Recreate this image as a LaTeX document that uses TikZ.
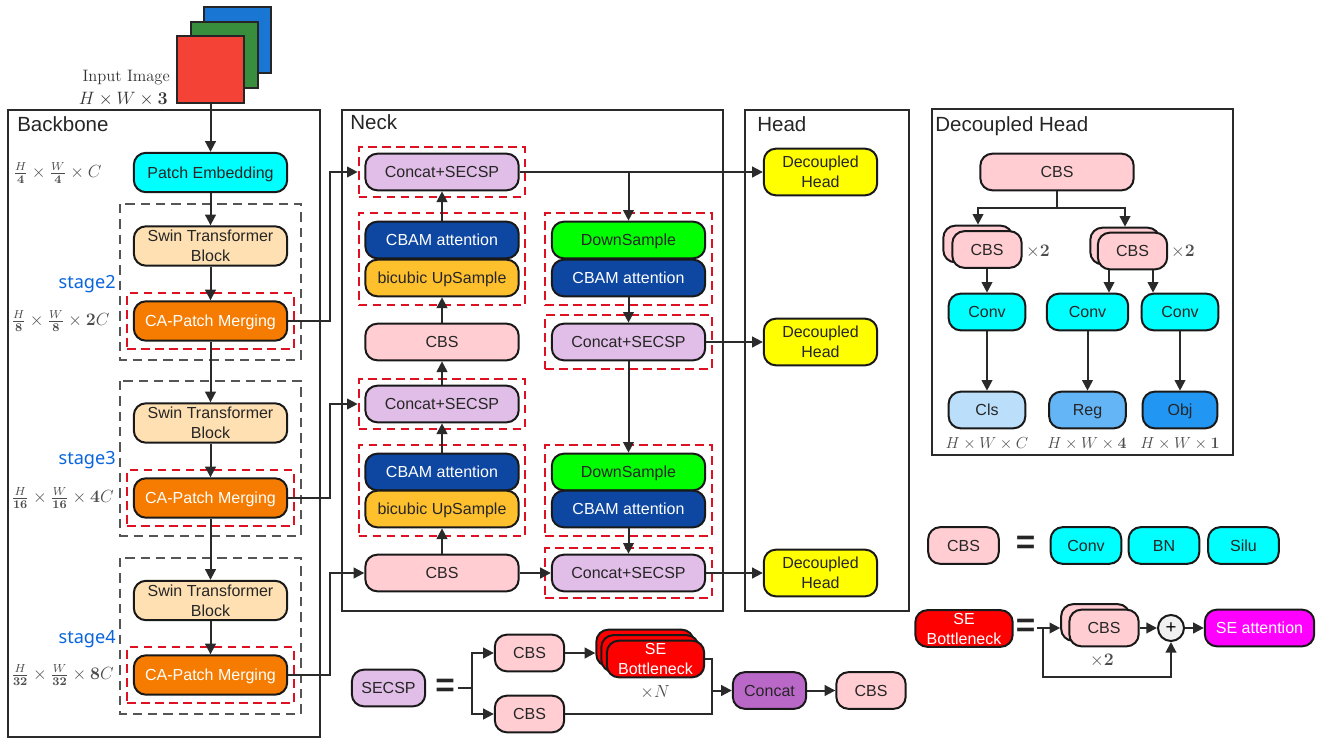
\documentclass[tikz,border=0pt]{standalone}
\usepackage[no-math]{fontspec}
\usepackage{tikz}
\usetikzlibrary{arrows.meta,fit}
\setsansfont{Liberation Sans}
\newfontfamily\stagefont{Noto Sans}
\definecolor{imgred}{HTML}{F44336}
\definecolor{imggreen}{HTML}{388E3C}
\definecolor{imgblue}{HTML}{1976D2}
\definecolor{cbspink}{HTML}{FFCDD2}
\definecolor{secsplilac}{HTML}{E1BEE7}
\definecolor{concatpurple}{HTML}{BA68C8}
\definecolor{swinsand}{HTML}{FFE0B2}
\definecolor{caorange}{HTML}{F57C00}
\definecolor{cbamblue}{HTML}{0D47A1}
\definecolor{upamber}{HTML}{FFC02D}
\definecolor{clssky}{HTML}{BBDEFB}
\definecolor{regsky}{HTML}{64B5F6}
\definecolor{objsky}{HTML}{2196F3}
\definecolor{stageblue}{HTML}{0A64DC}
\definecolor{linegray}{HTML}{2A2A2A}
\definecolor{dashred}{HTML}{DD1122}
\definecolor{dashgray}{HTML}{555555}
\definecolor{fillcyan}{HTML}{00FFFF}
\definecolor{fillgreen}{HTML}{00FF00}
\definecolor{fillyellow}{HTML}{FFFF00}
\definecolor{fillred}{HTML}{FF0000}
\definecolor{fillmagenta}{HTML}{FF00FF}
\tikzset{
  box/.style={draw=black!90,line width=1.5pt,rounded corners=9pt,align=center,inner sep=0pt,
    minimum height=27.5pt,text height=8.6pt,text depth=0pt,
    font=\sffamily\fontsize{12}{15}\selectfont,text=black!85},
  twolines/.style={text height=,text depth=},
  big/.style={minimum width=115pt},
  mid/.style={minimum width=52pt},
  tall/.style={minimum height=29.5pt},
  cbs/.style={box,fill=cbspink},
  conv/.style={box,fill=fillcyan},
  secsp/.style={box,fill=secsplilac},
  swin/.style={box,big,tall,twolines,fill=swinsand},
  camerge/.style={box,big,tall,fill=caorange,text=white},
  cbam/.style={box,big,fill=cbamblue,text=white},
  upsam/.style={box,big,fill=upamber},
  downsam/.style={box,big,fill=fillgreen},
  dechead/.style={box,twolines,minimum width=85pt,minimum height=35pt,fill=fillyellow},
  seb/.style={box,twolines,fill=fillred,text=white,minimum width=73pt},
  frame/.style={draw=linegray,line width=1.5pt},
  framelabel/.style={anchor=base west,inner sep=0pt,font=\sffamily\fontsize{15.4}{18}\selectfont,text=black!85},
  graydash/.style={draw=dashgray,line width=1.2pt,dash pattern=on 7pt off 4.5pt},
  reddash/.style={draw=dashred,line width=1.6pt,dash pattern=on 6.5pt off 4pt,inner xsep=4.2pt,inner ysep=4pt},
  imgbox/.style={draw=black!85,line width=1.3pt,minimum size=50pt,inner sep=0pt},
  dim/.style={inner sep=0pt,text=black!70,font=\fontsize{12}{14}\selectfont},
  fracdim/.style={dim,anchor=west,scale=1.1,transform shape},
  repeats/.style={dim,scale=1.1,transform shape},
  stagetxt/.style={anchor=base east,inner sep=0pt,text=stageblue,font=\stagefont\fontsize{13.6}{16}\selectfont},
  eqsign/.style={inner sep=0pt,text=black!85,font=\sffamily\bfseries\fontsize{25}{25}\selectfont},
  plain/.style={draw=linegray,line width=1.5pt},
  conn/.style={plain,-{Triangle[length=8pt,width=8pt]}}
}
\begin{document}
\begin{tikzpicture}[x=0.75pt,y=-0.75pt]
  \useasboundingbox (0,0) rectangle (1325,746);
  \draw[frame] (8,110) rectangle (320,737);
  \draw[frame] (342,110) rectangle (723,611);
  \draw[frame] (745,110) rectangle (909,611);
  \draw[frame] (932,109) rectangle (1233,455);
  \node[framelabel] (lblBack) at (17,131) {Backbone};
  \node[framelabel] (lblNeck) at (350,129) {Neck};
  \node[framelabel] (lblHead) at (757,131) {Head};
  \node[framelabel] (lblDec) at (935,131) {Decoupled Head};

  \node[imgbox,fill=imgblue] (imgB) at (237.5,40) {};
  \node[imgbox,fill=imggreen] (imgG) at (224.5,55) {};
  \node[imgbox,fill=imgred] (imgR) at (210.5,69.5) {};
  \node[dim,text=black!80,anchor=east,font=\fontsize{12.4}{14}\selectfont] (imgTxt) at (170,78) {Input Image};
  \node[dim,text=black!80,anchor=east,scale=1.12,transform shape] (imgDim) at (168,99) {$H\times W\times\mathbf{3}$};

  \draw[graydash] (120,204) rectangle (301,360);
  \draw[graydash] (120,381) rectangle (301,536);
  \draw[graydash] (120,558) rectangle (301,714);
  \node[box,big,tall,fill=fillcyan] (patch) at (210.5,172.5) {Patch Embedding};
  \node[swin] (swinA) at (210.5,246) {Swin Transformer\\Block};
  \node[camerge] (caA) at (210.5,321) {CA-Patch Merging};
  \node[swin] (swinB) at (210.5,423) {Swin Transformer\\Block};
  \node[camerge] (caB) at (210.5,498) {CA-Patch Merging};
  \node[swin] (swinC) at (210.5,600.5) {Swin Transformer\\Block};
  \node[camerge] (caC) at (210.5,675) {CA-Patch Merging};
  \node[reddash,inner ysep=5.5pt,fit=(caA)] (redCaA) {};
  \node[reddash,inner ysep=5.5pt,fit=(caB)] (redCaB) {};
  \node[reddash,inner ysep=5.5pt,fit=(caC)] (redCaC) {};
  \node[stagetxt] (stA) at (116,288) {stage2};
  \node[stagetxt] (stB) at (116,464) {stage3};
  \node[stagetxt] (stC) at (116,643) {stage4};
  \node[fracdim] (dimA) at (13,173) {$\frac{H}{\mathbf{4}}\times\frac{W}{\mathbf{4}}\times C$};
  \node[fracdim] (dimB) at (11,321) {$\frac{H}{\mathbf{8}}\times\frac{W}{\mathbf{8}}\times\mathbf{2}C$};
  \node[fracdim] (dimC) at (11,498) {$\frac{H}{\mathbf{16}}\times\frac{W}{\mathbf{16}}\times\mathbf{4}C$};
  \node[fracdim] (dimD) at (11,675) {$\frac{H}{\mathbf{32}}\times\frac{W}{\mathbf{32}}\times\mathbf{8}C$};

  \node[secsp,big] (concA) at (442,172) {Concat+SECSP};
  \node[cbam] (cbamA) at (442,240) {CBAM attention};
  \node[upsam] (upA) at (442,278) {bicubic UpSample};
  \node[cbs,big] (cbsA) at (442,342) {CBS};
  \node[secsp,big] (concB) at (442,404) {Concat+SECSP};
  \node[cbam] (cbamB) at (442,472) {CBAM attention};
  \node[upsam] (upB) at (442,509) {bicubic UpSample};
  \node[cbs,big] (cbsB) at (442,573) {CBS};
  \node[downsam] (downA) at (628.5,240) {DownSample};
  \node[cbam] (cbamC) at (628.5,278) {CBAM attention};
  \node[secsp,big] (concC) at (628.5,342) {Concat+SECSP};
  \node[downsam] (downB) at (628.5,472) {DownSample};
  \node[cbam] (cbamD) at (628.5,509) {CBAM attention};
  \node[secsp,big] (concD) at (628.5,573) {Concat+SECSP};
  \node[reddash,fit=(concA)] (redConcA) {};
  \node[reddash,fit=(concB)] (redConcB) {};
  \node[reddash,inner ysep=6pt,fit=(concC)] (redConcC) {};
  \node[reddash,fit=(concD)] (redConcD) {};
  \node[reddash,inner ysep=6pt,fit=(cbamA)(upA)] (redUpA) {};
  \node[reddash,inner ysep=6pt,fit=(cbamB)(upB)] (redUpB) {};
  \node[reddash,inner ysep=6pt,fit=(downA)(cbamC)] (redDownA) {};
  \node[reddash,inner ysep=6pt,fit=(downB)(cbamD)] (redDownB) {};
  \node[dechead] (headA) at (820.5,172) {Decoupled\\Head};
  \node[dechead] (headB) at (820.5,342) {Decoupled\\Head};
  \node[dechead] (headC) at (820.5,573) {Decoupled\\Head};

  \node[cbs,big] (dcTop) at (1057,172) {CBS};
  \node[cbs,mid] (dcLb) at (978,244) {};
  \node[cbs,mid] (dcL) at (987,249.5) {CBS};
  \node[cbs,mid] (dcRb) at (1125,246) {};
  \node[cbs,mid] (dcR) at (1132.5,251) {CBS};
  \node[repeats] (dcLx) at (1038,252) {$\times\mathbf{2}$};
  \node[repeats] (dcRx) at (1183,252) {$\times\mathbf{2}$};
  \node[conv,minimum width=57.5pt] (convA) at (987,312) {Conv};
  \node[conv,minimum width=61pt] (convB) at (1087.5,312) {Conv};
  \node[conv,minimum width=57.5pt] (convC) at (1180,312) {Conv};
  \node[box,minimum width=57.5pt,fill=clssky] (cls) at (987,410) {Cls};
  \node[box,minimum width=57.5pt,fill=regsky] (reg) at (1087.5,410) {Reg};
  \node[box,minimum width=56pt,fill=objsky] (obj) at (1180,410) {Obj};
  \node[dim] (dimCls) at (987,444) {$H\times W\times C$};
  \node[dim] (dimReg) at (1087,444) {$H\times W\times\mathbf{4}$};
  \node[dim] (dimObj) at (1180,444) {$H\times W\times\mathbf{1}$};
  \coordinate (dcBr) at (1057,208);
  \coordinate (tapReg) at (1109,0);
  \coordinate (tapObj) at (1153,0);

  \node[cbs,minimum width=53pt] (keyCbs) at (963.5,545.5) {CBS};
  \node[eqsign] (eqCbs) at (1025.5,545) {=};
  \node[conv,minimum width=53pt] (keyConv) at (1086,545.5) {Conv};
  \node[conv,minimum width=53pt] (keyBn) at (1164,545.5) {BN};
  \node[conv,minimum width=53pt] (keySilu) at (1243.5,545.5) {Silu};

  \node[seb] (sebKey) at (964,628.5) {SE\\Bottleneck};
  \node[eqsign] (eqSeb) at (1025.5,627.5) {=};
  \node[cbs,minimum width=51.5pt] (sebCb) at (1095.5,622.5) {};
  \node[cbs,minimum width=52pt] (sebC) at (1104,628) {CBS};
  \node[repeats] (sebX) at (1102,661) {$\times\mathbf{2}$};
  \node[draw=black!90,line width=1.5pt,circle,fill=black!6,minimum size=19.5pt,inner sep=0pt,font=\sffamily\fontsize{14}{14}\selectfont] (plus) at (1171,628) {+};
  \node[box,minimum width=82pt,fill=fillmagenta,text=white] (seAtt) at (1259.5,628) {SE attention};
  \coordinate (sebIn) at (1037,628);
  \coordinate (sebBr) at (1043,628);
  \coordinate (sebLow) at (1043,677);

  \node[secsp,minimum width=55pt] (keySec) at (388.5,688) {SECSP};
  \node[eqsign] (eqSec) at (445,688) {=};
  \node[cbs,minimum width=52pt] (secA) at (529.5,653) {CBS};
  \node[cbs,minimum width=52pt] (secB) at (529.5,714) {CBS};
  \node[seb] (stackA) at (645,648) {};
  \node[seb] (stackB) at (650,653.5) {};
  \node[seb] (stackC) at (655.5,659) {SE\\Bottleneck};
  \node[repeats] (stackX) at (655,692) {$\times N$};
  \node[box,minimum width=55pt,fill=concatpurple] (secCat) at (769.5,690.5) {Concat};
  \node[cbs,minimum width=52pt] (secEnd) at (871,690.5) {CBS};
  \coordinate (secIn) at (458,688);
  \coordinate (secBr) at (472,688);
  \coordinate (secOut) at (711.5,690.5);

  \draw[conn] (imgR.south) -- (patch.north);
  \draw[conn] (patch.south) -- (swinA.north);
  \draw[conn] (swinA.south) -- (caA.north);
  \draw[conn] (caA.south) -- (swinB.north);
  \draw[conn] (swinB.south) -- (caB.north);
  \draw[conn] (caB.south) -- (swinC.north);
  \draw[conn] (swinC.south) -- (caC.north);
  \coordinate (busA) at (330,321);
  \coordinate (busB) at (330,498);
  \coordinate (busC) at (330,675);
  \draw[conn] (caA.east) -- (busA) |- (redConcA.west);
  \draw[conn] (caB.east) -- (busB) |- (redConcB.west);
  \draw[conn] (caC.east) -- (busC) |- (cbsB.west);

  \draw[conn] (cbsB.north) -- (upB.south);
  \draw[conn] (cbamB.north) -- (concB.south);
  \draw[conn] (concB.north) -- (cbsA.south);
  \draw[conn] (cbsA.north) -- (upA.south);
  \draw[conn] (cbamA.north) -- (concA.south);
  \draw[conn] (concA.east) -- (headA.west);
  \draw[conn] (concA.east -| downA.north) -- (downA.north);
  \draw[conn] (cbamC.south) -- (concC.north);
  \draw[conn] (concC.south) -- (downB.north);
  \draw[conn] (cbamD.south) -- (concD.north);
  \draw[conn] (concC.east) -- (headB.west);
  \draw[conn] (cbsB.east) -- (concD.west);
  \draw[conn] (concD.east) -- (headC.west);

  \draw[plain] (dcTop.south) -- (dcBr);
  \draw[conn] (dcBr) -| (dcLb.north);
  \draw[conn] (dcBr) -| (dcRb.north);
  \draw[conn] (dcL.south) -- (convA.north);
  \draw[conn] (dcR.south -| tapReg) -- (convB.north -| tapReg);
  \draw[conn] (dcR.south -| tapObj) -- (convC.north -| tapObj);
  \draw[conn] (convA.south) -- (cls.north);
  \draw[conn] (convB.south) -- (reg.north);
  \draw[conn] (convC.south) -- (obj.north);

  \draw[conn] (sebIn) -- (sebIn -| sebCb.west);
  \draw[conn] (sebC.east) -- (plus.west);
  \draw[conn] (sebBr) -- (sebLow) -| (plus.south);
  \draw[conn] (plus.east) -- (seAtt.west);

  \draw[plain] (secIn) -- (secBr);
  \draw[conn] (secBr) |- (secA.west);
  \draw[conn] (secBr) |- (secB.west);
  \draw[conn] (secA.east) -- (stackA.west |- secA.east);
  \draw[plain] (stackC.east) -- (stackC.east -| secOut) -- (secOut |- secB.east) -- (secB.east);
  \draw[conn] (secOut) -- (secCat.west);
  \draw[conn] (secCat.east) -- (secEnd.west);
\end{tikzpicture}
\end{document}
